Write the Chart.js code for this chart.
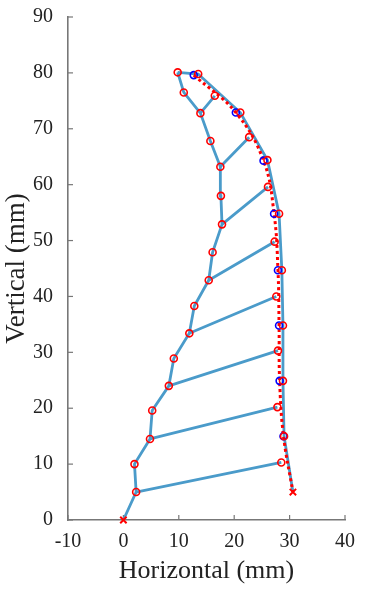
<!DOCTYPE html>
<html>
<head>
<meta charset="utf-8">
<title>Horizontal vs Vertical</title>
<script src="https://cdn.jsdelivr.net/npm/chart.js@4"></script>
<style>
  html, body { margin: 0; padding: 0; background: #ffffff; }
  #chart { display: block; }
</style>
</head>
<body>
<canvas id="chart" width="365" height="590"></canvas>
<script>
// left spine (red circles, first one is the origin cross)
const leftX = [0, 2.3, 2.0, 4.8, 5.2, 8.2, 9.1, 11.9, 12.8, 15.4, 16.1, 17.8, 17.6, 17.5, 15.7, 13.9, 10.9, 9.8];
const leftY = [0, 5.0, 10.0, 14.5, 19.6, 24.0, 28.9, 33.4, 38.3, 42.9, 47.9, 52.9, 58.0, 63.2, 67.8, 72.8, 76.5, 80.1];

// right spine, last point is the tip cross
const rightX = [13.5, 21.1, 26.0, 28.1, 28.6, 28.8, 28.8, 29.0, 30.6];
const rightY = [79.8, 72.9, 64.4, 54.8, 44.7, 34.8, 24.9, 15.0, 5.0];

// cross links: start at left spine index, end at these points
const linkFrom = [1, 3, 5, 7, 9, 11, 13, 15];
const linkEndX = [28.5, 27.8, 27.9, 27.6, 27.3, 26.1, 22.7, 16.5];
const linkEndY = [10.3, 20.2, 30.3, 40.0, 49.8, 59.6, 68.5, 75.9];

// blue circles (target path)
const blueX = [12.7, 20.3, 25.3, 27.2, 27.9, 28.1, 28.2, 28.9];
const blueY = [79.6, 72.9, 64.3, 54.8, 44.7, 34.8, 24.9, 15.0];

// end crosses
const tipX = [0, 30.6];
const tipY = [0, 5.0];

const xTicks = [-10, 0, 10, 20, 30, 40];
const yTicks = [0, 10, 20, 30, 40, 50, 60, 70, 80, 90];

const lineBlue = '#4a9bca';
const axisGrey = '#777777';
const serif = "'Liberation Serif', 'Times New Roman', serif";

function pts(xs, ys) {
    return xs.map((x, i) => ({ x: x, y: ys[i] }));
}

// build the link segments with gaps between them
let linkData = [];
for (let i = 0; i < linkFrom.length; i++) {
    let k = linkFrom[i];
    linkData.push({ x: leftX[k], y: leftY[k] });
    linkData.push({ x: linkEndX[i], y: linkEndY[i] });
    linkData.push({ x: null, y: null });
}

// right spine starts from the top of the left spine
let rightData = [{ x: leftX[leftX.length - 1], y: leftY[leftY.length - 1] }].concat(pts(rightX, rightY));

let redData = pts(leftX.slice(1), leftY.slice(1))
    .concat(pts(rightX.slice(0, -1), rightY.slice(0, -1)))
    .concat(pts(linkEndX, linkEndY));

let dottedData = pts(blueX, blueY).concat([{ x: tipX[1], y: tipY[1] }]);

// MATLAB-like ticks pointing into the axes
const inwardTicks = {
    id: 'inwardTicks',
    beforeDatasetsDraw(chart) {
        const { ctx, chartArea, scales } = chart;
        ctx.save();
        ctx.strokeStyle = axisGrey;
        ctx.lineWidth = 1.2;
        xTicks.forEach(v => {
            let px = scales.x.getPixelForValue(v);
            ctx.beginPath();
            ctx.moveTo(px, chartArea.bottom);
            ctx.lineTo(px, chartArea.bottom - 5);
            ctx.stroke();
        });
        yTicks.forEach(v => {
            let py = scales.y.getPixelForValue(v);
            ctx.beginPath();
            ctx.moveTo(chartArea.left, py);
            ctx.lineTo(chartArea.left + 5, py);
            ctx.stroke();
        });
        ctx.restore();
    }
};

const ctx = document.getElementById('chart').getContext('2d');
const chart = new Chart(ctx, {
    type: 'scatter',
    data: {
        datasets: [
            {
                // crosses on top
                data: pts(tipX, tipY),
                pointStyle: 'crossRot',
                pointRadius: 4.5,
                pointBorderWidth: 2,
                pointBorderColor: '#ff0000',
                showLine: false,
                order: 0
            },
            {
                data: redData,
                pointStyle: 'circle',
                pointRadius: 3.5,
                pointBorderWidth: 1.6,
                pointBorderColor: '#ff0000',
                pointBackgroundColor: 'rgba(0,0,0,0)',
                showLine: false,
                order: 1
            },
            {
                data: pts(blueX, blueY),
                pointStyle: 'circle',
                pointRadius: 3.5,
                pointBorderWidth: 1.6,
                pointBorderColor: '#0000ff',
                pointBackgroundColor: 'rgba(0,0,0,0)',
                showLine: false,
                order: 2
            },
            {
                data: dottedData,
                showLine: true,
                borderColor: '#ff0000',
                borderWidth: 3,
                borderDash: [3, 3],
                tension: 0.4,
                pointRadius: 0,
                order: 3
            },
            {
                data: linkData,
                showLine: true,
                spanGaps: false,
                borderColor: lineBlue,
                borderWidth: 2.8,
                pointRadius: 0,
                order: 4
            },
            {
                data: rightData,
                showLine: true,
                borderColor: lineBlue,
                borderWidth: 2.8,
                pointRadius: 0,
                order: 5
            },
            {
                data: pts(leftX, leftY),
                showLine: true,
                borderColor: lineBlue,
                borderWidth: 2.8,
                pointRadius: 0,
                order: 6
            }
        ]
    },
    options: {
        responsive: false,
        animation: false,
        clip: false,
        layout: {
            padding: { top: 17, right: 18, left: 0, bottom: 0 }
        },
        plugins: {
            legend: { display: false },
            tooltip: { enabled: false }
        },
        scales: {
            x: {
                type: 'linear',
                min: -10,
                max: 40,
                afterFit: (scale) => { scale.height = 70; },
                afterBuildTicks: (scale) => { scale.ticks = xTicks.map(v => ({ value: v })); },
                grid: { drawOnChartArea: false, drawTicks: false },
                border: { color: axisGrey, width: 1.6 },
                ticks: {
                    padding: 10,
                    maxRotation: 0,
                    autoSkip: false,
                    color: '#222222',
                    font: { family: serif, size: 20 }
                },
                title: {
                    display: true,
                    text: 'Horizontal (mm)',
                    color: '#222222',
                    padding: { top: 0, bottom: 3 },
                    font: { family: serif, size: 26 }
                }
            },
            y: {
                type: 'linear',
                min: 0,
                max: 90,
                afterFit: (scale) => {
                    // keep the label padding from pushing the plot down
                    scale.width = 68;
                    scale.paddingTop = 0;
                    scale.paddingBottom = 0;
                },
                afterBuildTicks: (scale) => { scale.ticks = yTicks.map(v => ({ value: v })); },
                grid: { drawOnChartArea: false, drawTicks: false },
                border: { color: axisGrey, width: 1.6 },
                ticks: {
                    padding: 15,
                    autoSkip: false,
                    color: '#222222',
                    font: { family: serif, size: 20 }
                },
                title: {
                    display: true,
                    text: 'Vertical (mm)',
                    color: '#222222',
                    padding: { top: 1, bottom: 0 },
                    font: { family: serif, size: 27 }
                }
            }
        }
    },
    plugins: [inwardTicks]
});
</script>
</body>
</html>
